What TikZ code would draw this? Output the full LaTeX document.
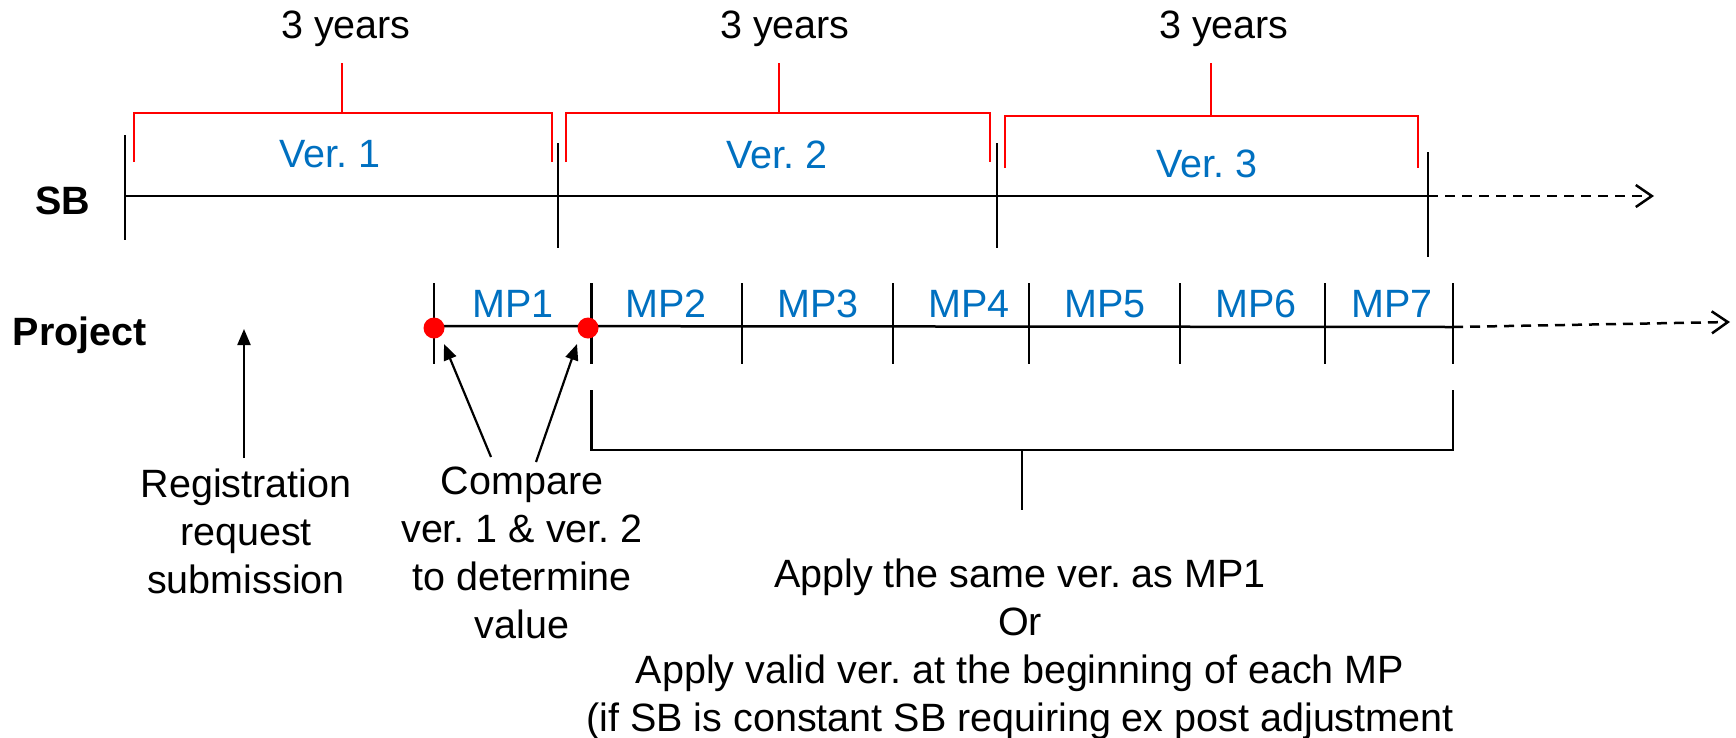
\documentclass[tikz,border=0pt]{standalone}
\usepackage{fontspec}
\setmainfont{Liberation Sans}
\usetikzlibrary{arrows.meta}
\definecolor{mpblue}{RGB}{0,112,192}
\frenchspacing
\begin{document}
\begin{tikzpicture}[x=1pt,y=-1pt,
  txt/.style={inner sep=0pt, font=\fontsize{39.5}{48}\selectfont},
  lbl/.style={txt, anchor=base},
  bluelbl/.style={lbl, text=mpblue},
  boldlbl/.style={lbl, font=\fontsize{39.5}{48}\selectfont\bfseries},
  para/.style={txt, anchor=north, align=center},
  sbline/.style={line width=2.5pt},
  tk/.style={line width=2.2pt},
  redbr/.style={draw=red, line width=2.2pt},
  blkbr/.style={line width=2.5pt},
  reddot/.style={circle, fill=red, inner sep=0pt, minimum size=21pt},
  dasharrow/.style={line width=2.5pt, dash pattern=on 10pt off 7pt, -{Straight Barb[length=16pt,width=22pt,line width=2.5pt]}},
  uparrow/.style={line width=2.2pt, -{Triangle[length=16pt,width=13pt]}}
]
\useasboundingbox (0,0) rectangle (1736,737);

% ---------- SB timeline ----------
\coordinate (s0) at (125,196);
\coordinate (s1) at (557.7,196);
\coordinate (s2) at (997,196);
\coordinate (s3) at (1428,196);
\coordinate (send) at (1654,196);
\draw[sbline] (s0) -- (s3);
\draw[dasharrow] (s3) -- (send);
\draw[tk] (125,135) -- (125,240);
\draw[tk] (557.7,143) -- (557.7,248);
\draw[tk] (997,143) -- (997,248);
\draw[tk] (1428,152) -- (1428,257);

\node[boldlbl] (sb) at (63,214) {SB};

% ---------- red brackets ----------
\draw[redbr] (133.7,162) -- (133.7,113) -- (551.6,113) -- (551.6,162);
\draw[redbr] (342,113) -- (342,63);
\draw[redbr] (566,162) -- (566,113) -- (990,113) -- (990,162);
\draw[redbr] (778.6,113) -- (778.6,63);
\draw[redbr] (1005,168) -- (1005,116) -- (1418,116) -- (1418,168);
\draw[redbr] (1211,116) -- (1211,63);

\node[lbl] (y1) at (346,38) {3 years};
\node[lbl] (y2) at (785,38) {3 years};
\node[lbl] (y3) at (1224,38) {3 years};

\node[bluelbl] (v1) at (330,167) {Ver. 1};
\node[bluelbl] (v2) at (777,168) {Ver. 2};
\node[bluelbl] (v3) at (1207,177) {Ver. 3};

% ---------- Project timeline ----------
\node[boldlbl, anchor=base west] (proj) at (12.5,345) {Project};
\coordinate (p0) at (434,326);
\coordinate (p7) at (1453,327);
\coordinate (pend) at (1730,322);
\draw[sbline] (p0) -- (p7);
\draw[dasharrow] (p7) -- (pend);
\foreach \x in {434,591.5,742,893,1029,1180,1325,1453}
  \draw[tk] (\x,283) -- (\x,364);

\node[bluelbl] (mp1) at (513,317) {MP1};
\node[bluelbl] (mp2) at (666,317) {MP2};
\node[bluelbl] (mp3) at (818,317) {MP3};
\node[bluelbl] (mp4) at (969,317) {MP4};
\node[bluelbl] (mp5) at (1105,317) {MP5};
\node[bluelbl] (mp6) at (1256,317) {MP6};
\node[bluelbl] (mp7) at (1392,317) {MP7};

\node[reddot] (d1) at (434,328) {};
\node[reddot] (d2) at (588,328) {};

% ---------- lower bracket ----------
\draw[blkbr] (591.5,390) -- (591.5,450) -- (1453,450) -- (1453,390);
\coordinate (brtop) at (1022,450);
\coordinate (brbot) at (1022,510);
\draw[blkbr] (brtop) -- (brbot);

% ---------- texts ----------
\node[para] (reg) at (246,469) {Registration\\request\\submission};
\node[para] (cmp) at (522,467) {Compare\\ver. 1 \& ver. 2\\to determine\\value};
\node[para] (apply) at (1020,559) {Apply the same ver. as MP1\\Or\\Apply valid ver. at the beginning of each MP\\(if SB is constant SB requiring ex post adjustment};

% ---------- arrows ----------
\coordinate (regtail) at (244,458);
\coordinate (regtip) at (244,329);
\draw[uparrow] (regtail) -- (regtip);
\coordinate (c1tail) at (491,457);
\coordinate (c1tip) at (444,344);
\coordinate (c2tail) at (536,462);
\coordinate (c2tip) at (577,344);
\draw[uparrow] (c1tail) -- (c1tip);
\draw[uparrow] (c2tail) -- (c2tip);
\end{tikzpicture}
\end{document}
